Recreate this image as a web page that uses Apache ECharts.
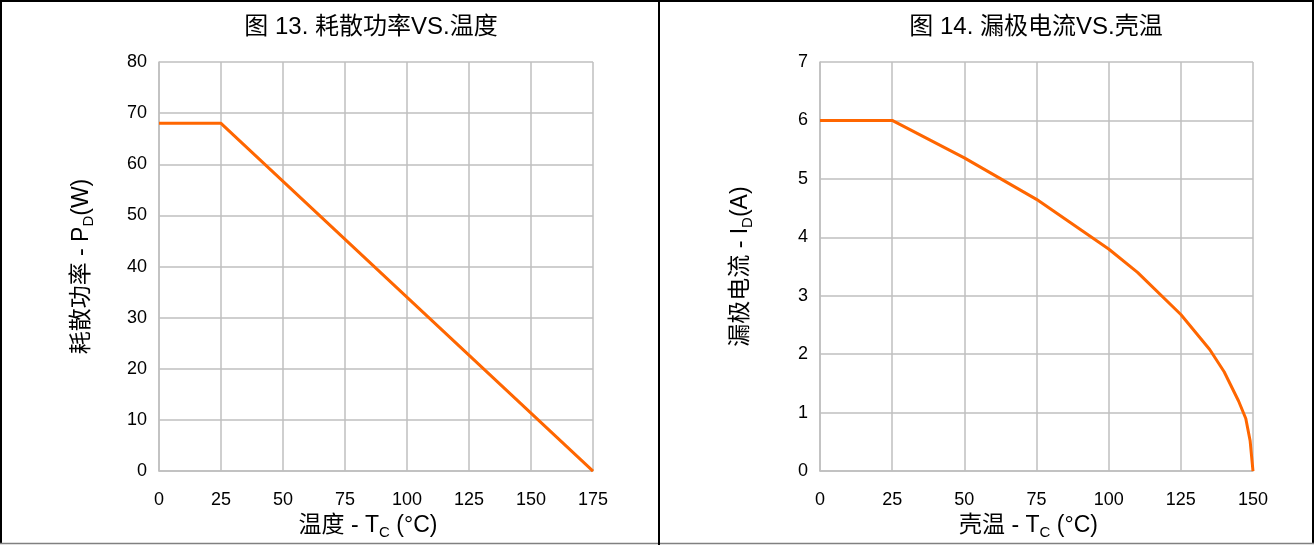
<!DOCTYPE html>
<html><head><meta charset="utf-8">
<script src="https://cdn.jsdelivr.net/npm/echarts@6/dist/echarts.min.js"></script>
<style>html,body{margin:0;padding:0;background:#fff}#c{width:1316px;height:545px}</style>
</head><body><div id="c"></div>
<script>
// Chart 13: dissipated power vs temperature
const powerTemp = [0, 25, 175];
const powerW = [68, 68, 0];
const powerXTicks = [0, 25, 50, 75, 100, 125, 150, 175];
const powerYTicks = [0, 10, 20, 30, 40, 50, 60, 70, 80];
// Chart 14: drain current vs case temperature
const currTemp = [0, 25, 50, 75, 100, 110, 125, 135, 140, 145, 147.5, 149, 150];
const currA = [6, 6, 5.36, 4.65, 3.8, 3.4, 2.68, 2.08, 1.7, 1.2, 0.9, 0.52, 0];
const currXTicks = [0, 25, 50, 75, 100, 125, 150];
const currYTicks = [0, 1, 2, 3, 4, 5, 6, 7];

const FONT = '"Liberation Sans", Arial, "Noto Sans CJK SC", sans-serif';
const GRAY = '#BFBFBF';
const ORANGE = '#FF6600';
const subRich = {
  n: {fontSize: 23, fontFamily: FONT, color: '#000'},
  s: {fontSize: 15, fontFamily: FONT, color: '#000', verticalAlign: 'bottom', padding: [0, 0, -3, 0]}
};
function xAx(idx, ticks, name){
  return {type:'value', gridIndex: idx, min: ticks[0], max: ticks[ticks.length-1], interval: ticks[1]-ticks[0],
    name: name, nameLocation:'middle', nameGap: 41,
    nameTextStyle: {rich: subRich, padding: [0, 16, 0, 0]},
    axisLine:{show:true, lineStyle:{color:GRAY, width:1.5}}, axisTick:{show:false},
    axisLabel:{fontSize:18, fontFamily:FONT, color:'#000', margin:20},
    splitLine:{show:true, lineStyle:{color:GRAY, width:1.5}}};
}
function yAx(idx, ticks, name, gap){
  return {type:'value', gridIndex: idx, min: ticks[0], max: ticks[ticks.length-1], interval: ticks[1]-ticks[0],
    name: name, nameLocation:'middle', nameGap: gap, nameRotate: 90,
    nameTextStyle: {rich: subRich},
    axisLine:{show:true, lineStyle:{color:GRAY, width:1.5}}, axisTick:{show:false},
    axisLabel:{fontSize:18, fontFamily:FONT, color:'#000', margin:12},
    splitLine:{show:true, lineStyle:{color:GRAY, width:1.5}}};
}
const chart = echarts.init(document.getElementById('c'), null, {renderer:'canvas'});
chart.setOption({
  animation:false,
  backgroundColor:'#fff',
  title:[
    {text:'图 13. 耗散功率VS.温度', left: 371, top: 15, textAlign:'center', padding:0,
     textStyle:{fontSize:24, fontWeight:'normal', fontFamily:FONT, color:'#000'}},
    {text:'图 14. 漏极电流VS.壳温', left: 1036, top: 15, textAlign:'center', padding:0,
     textStyle:{fontSize:24, fontWeight:'normal', fontFamily:FONT, color:'#000'}}
  ],
  grid:[
    {left:159, top:62, width:434, height:412},
    {left:820, top:62, width:433, height:412}
  ],
  xAxis:[
    xAx(0, powerXTicks, '{n|温度 - T}{s|C}{n| (°C)}'),
    xAx(1, currXTicks, '{n|壳温 - T}{s|C}{n| (°C)}')
  ],
  yAxis:[
    yAx(0, powerYTicks, '{n|耗散功率 - P}{s|D}{n|(W)}', 66),
    yAx(1, currYTicks, '{n|漏极电流 - I}{s|D}{n|(A)}', 68)
  ],
  series:[
    {type:'line', xAxisIndex:0, yAxisIndex:0, data: powerTemp.map((t,i)=>[t, powerW[i]]),
     showSymbol:false, lineStyle:{color:ORANGE, width:3}, itemStyle:{color:ORANGE}},
    {type:'line', xAxisIndex:1, yAxisIndex:1, data: currTemp.map((t,i)=>[t, currA[i]]),
     showSymbol:false, lineStyle:{color:ORANGE, width:3}, itemStyle:{color:ORANGE}}
  ],
  graphic:[
    {type:'line', shape:{x1:0, y1:1, x2:1314, y2:1}, style:{stroke:'#000', lineWidth:2}},
    {type:'line', shape:{x1:1, y1:0, x2:1, y2:544}, style:{stroke:'#000', lineWidth:2}},
    {type:'line', shape:{x1:1313, y1:0, x2:1313, y2:544}, style:{stroke:'#000', lineWidth:2}},
    {type:'line', shape:{x1:0, y1:543.5, x2:1314, y2:543.5}, style:{stroke:'#808080', lineWidth:1.5}},
    {type:'line', shape:{x1:659, y1:0, x2:659, y2:545}, style:{stroke:'#000', lineWidth:2}}
  ]
});
</script></body></html>
